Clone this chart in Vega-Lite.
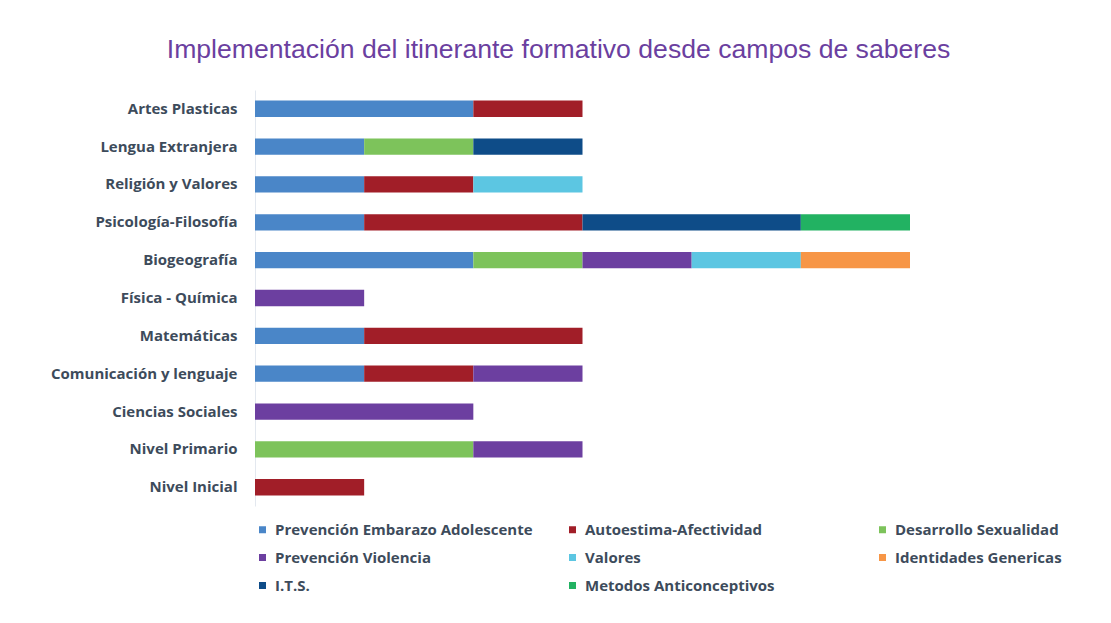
{
  "$schema": "https://vega.github.io/schema/vega-lite/v6.json",
  "width": 655,
  "height": 416,
  "padding": {"left": 5, "top": 37, "right": 201, "bottom": 0},
  "background": "white",
  "title": {
    "text": "Implementación del itinerante formativo desde campos de saberes",
    "font": "Liberation Sans",
    "fontSize": 26.6,
    "fontWeight": "normal",
    "color": "#6B3FA0",
    "anchor": "middle",
    "frame": "group",
    "dx": -24,
    "offset": 26.4
  },
  "config": {"view": {"stroke": null}},
  "data": {
    "values": [
      {"campo": "Artes Plasticas", "tema": "Prevención Embarazo Adolescente", "orden": 1, "valor": 2},
      {"campo": "Artes Plasticas", "tema": "Autoestima-Afectividad", "orden": 2, "valor": 1},
      {"campo": "Lengua Extranjera", "tema": "Prevención Embarazo Adolescente", "orden": 1, "valor": 1},
      {"campo": "Lengua Extranjera", "tema": "Desarrollo  Sexualidad", "orden": 3, "valor": 1},
      {"campo": "Lengua Extranjera", "tema": "I.T.S.", "orden": 7, "valor": 1},
      {"campo": "Religión y Valores", "tema": "Prevención Embarazo Adolescente", "orden": 1, "valor": 1},
      {"campo": "Religión y Valores", "tema": "Autoestima-Afectividad", "orden": 2, "valor": 1},
      {"campo": "Religión y Valores", "tema": "Valores", "orden": 5, "valor": 1},
      {"campo": "Psicología-Filosofía", "tema": "Prevención Embarazo Adolescente", "orden": 1, "valor": 1},
      {"campo": "Psicología-Filosofía", "tema": "Autoestima-Afectividad", "orden": 2, "valor": 2},
      {"campo": "Psicología-Filosofía", "tema": "I.T.S.", "orden": 7, "valor": 2},
      {"campo": "Psicología-Filosofía", "tema": "Metodos  Anticonceptivos", "orden": 8, "valor": 1},
      {"campo": "Biogeografía", "tema": "Prevención Embarazo Adolescente", "orden": 1, "valor": 2},
      {"campo": "Biogeografía", "tema": "Desarrollo  Sexualidad", "orden": 3, "valor": 1},
      {"campo": "Biogeografía", "tema": "Prevención Violencia", "orden": 4, "valor": 1},
      {"campo": "Biogeografía", "tema": "Valores", "orden": 5, "valor": 1},
      {"campo": "Biogeografía", "tema": "Identidades Genericas", "orden": 6, "valor": 1},
      {"campo": "Física - Química", "tema": "Prevención Violencia", "orden": 4, "valor": 1},
      {"campo": "Matemáticas", "tema": "Prevención Embarazo Adolescente", "orden": 1, "valor": 1},
      {"campo": "Matemáticas", "tema": "Autoestima-Afectividad", "orden": 2, "valor": 2},
      {"campo": "Comunicación  y lenguaje", "tema": "Prevención Embarazo Adolescente", "orden": 1, "valor": 1},
      {"campo": "Comunicación  y lenguaje", "tema": "Autoestima-Afectividad", "orden": 2, "valor": 1},
      {"campo": "Comunicación  y lenguaje", "tema": "Prevención Violencia", "orden": 4, "valor": 1},
      {"campo": "Ciencias Sociales", "tema": "Prevención Violencia", "orden": 4, "valor": 2},
      {"campo": "Nivel Primario", "tema": "Desarrollo  Sexualidad", "orden": 3, "valor": 2},
      {"campo": "Nivel Primario", "tema": "Prevención Violencia", "orden": 4, "valor": 1},
      {"campo": "Nivel Inicial", "tema": "Autoestima-Afectividad", "orden": 2, "valor": 1}
    ]
  },
  "mark": {"type": "bar"},
  "encoding": {
    "y": {
      "field": "campo",
      "type": "nominal",
      "sort": ["Artes Plasticas", "Lengua Extranjera", "Religión y Valores", "Psicología-Filosofía", "Biogeografía", "Física - Química", "Matemáticas", "Comunicación  y lenguaje", "Ciencias Sociales", "Nivel Primario", "Nivel Inicial"],
      "scale": {"paddingInner": 0.57, "paddingOuter": 0.28},
      "axis": {
        "title": null,
        "ticks": false,
        "labelPadding": 18,
        "labelFont": "Open Sans",
        "labelFontWeight": "bold",
        "labelFontSize": 15,
        "labelColor": "#3D4B5B",
        "labelLimit": 240,
        "domainColor": "#E3E8EF",
        "minExtent": 250,
        "maxExtent": 250
      }
    },
    "x": {
      "field": "valor",
      "type": "quantitative",
      "aggregate": "sum",
      "stack": "zero",
      "scale": {"domain": [0, 6], "nice": false},
      "axis": null
    },
    "color": {
      "field": "tema",
      "type": "nominal",
      "scale": {
        "domain": ["Prevención Embarazo Adolescente", "Autoestima-Afectividad", "Desarrollo  Sexualidad", "Prevención Violencia", "Valores", "Identidades Genericas", "I.T.S.", "Metodos  Anticonceptivos"],
        "range": ["#4A86C8", "#A11E28", "#7DC35B", "#6C3FA0", "#5CC6E2", "#F79646", "#0E4C88", "#22B262"]
      },
      "legend": {
        "title": null,
        "orient": "bottom",
        "direction": "horizontal",
        "columns": 3,
        "gridAlign": "all",
        "columnPadding": 32,
        "rowPadding": 12,
        "offset": 16,
        "padding": 0,
        "symbolType": "square",
        "symbolSize": 49,
        "symbolStrokeWidth": 0,
        "labelOffset": 5,
        "labelFont": "Open Sans",
        "labelFontWeight": "bold",
        "labelFontSize": 15,
        "labelColor": "#3D4B5B",
        "labelLimit": 400
      }
    },
    "order": {"field": "orden", "type": "quantitative"}
  }
}
